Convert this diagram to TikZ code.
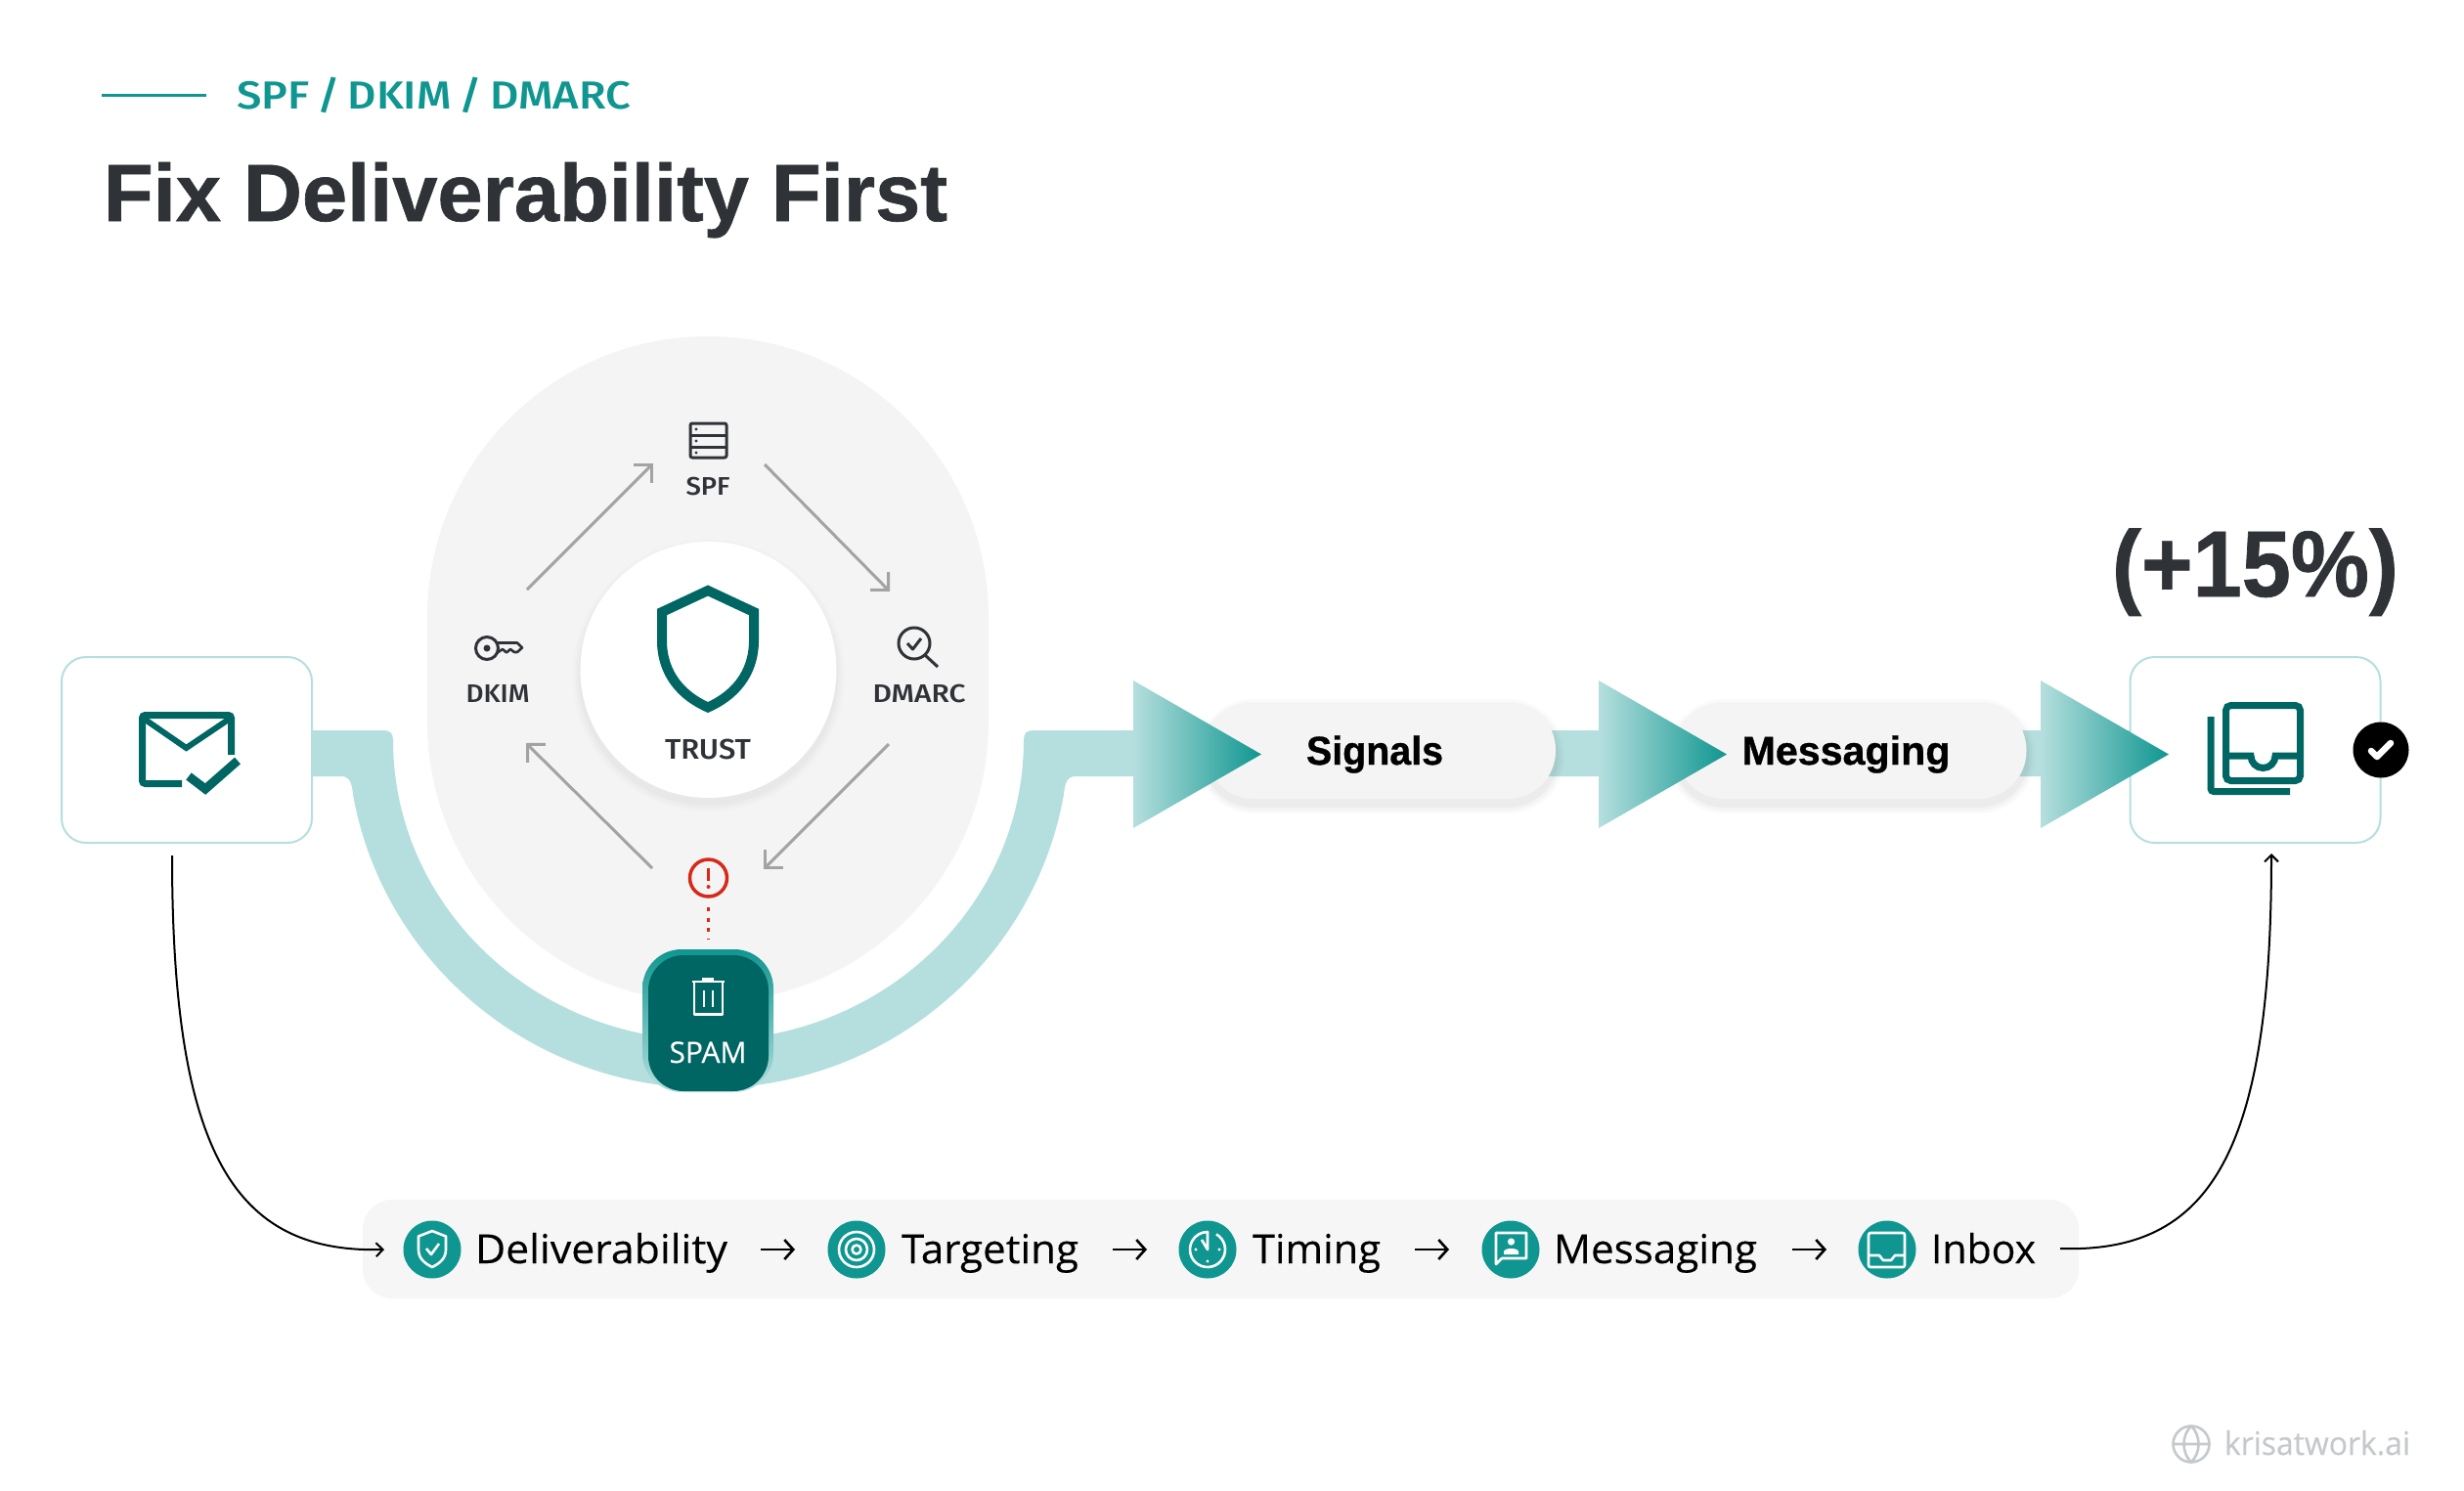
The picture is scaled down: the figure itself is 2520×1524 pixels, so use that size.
\documentclass[tikz,border=0pt]{standalone}
\usepackage{fontspec}
\usepackage{graphicx}
\usetikzlibrary{arrows.meta,shadings}
\setmainfont[FakeBold=0.25]{Open Sans}
\newfontfamily\headf[BoldFeatures={FakeBold=0.8}]{Liberation Sans}
\newfontfamily\medf[WordSpace=0.7]{Fira Sans Medium}
\definecolor{tealA}{HTML}{0F9690}
\definecolor{deep}{HTML}{006663}
\definecolor{pale}{HTML}{B5DFDE}
\definecolor{ink}{HTML}{2F3237}
\definecolor{soft}{HTML}{F4F4F4}
\definecolor{stripc}{HTML}{F6F6F6}
\definecolor{warn}{HTML}{D5291A}
\definecolor{arrowg}{HTML}{A3A3A3}
\definecolor{wmgray}{HTML}{C5C9CC}
\newsavebox\fitbox
\newcommand{\fitw}[2]{\sbox\fitbox{#2}\pgfmathsetmacro\fitr{#1/\the\wd\fitbox}\scalebox{\fitr}[1]{\usebox\fitbox}}
\newcommand{\fz}[1]{\fontsize{#1}{#1}\selectfont}
\tikzset{
  x=1pt,y=-1pt,
  txt/.style={inner sep=0pt,outer sep=0pt,anchor=base west},
  ctxt/.style={inner sep=0pt,outer sep=0pt,anchor=base},
  cardbox/.style={draw=pale,line width=2pt,fill=white,rounded corners=25pt,minimum width=256pt,minimum height=190pt,inner sep=0pt},
  pillbox/.style={fill=soft,rounded corners=49pt,minimum width=358pt,minimum height=99pt,inner sep=0pt,font=\headf\bfseries\fz{41}\color{black}},
  looparrow/.style={draw=arrowg,line width=3pt,-{Straight Barb[length=13pt,width=26pt,line width=3pt]}},
  thinarrow/.style={draw=black,line width=2pt,-{Straight Barb[length=7pt,width=14pt,line width=2pt]}},
  steparrow/.style={draw=black,line width=2.6pt,-{Straight Barb[length=9pt,width=20pt,line width=2.6pt]}},
  tri/.style={left color=pale,right color=tealA,draw=none},
  dotc/.style={circle,fill=tealA,minimum size=59pt,inner sep=0pt},
  wicon/.style={draw=white,line width=2.6pt,line join=round},
  dicon/.style={draw=deep,line width=7pt},
  gicon/.style={draw=ink,line width=3pt,line join=round},
}
\begin{document}
\begin{tikzpicture}
\useasboundingbox (0,0) rectangle (2520,1524);
\fill[white] (0,0) rectangle (2520,1524);
% title
\coordinate (ruleA) at (104,97); \coordinate (ruleB) at (211,97);
\draw[tealA,line width=3pt] (ruleA) -- (ruleB);
\node[txt,text=tealA] (kicker) at (242,111) {\medf\fz{40}\fitw{403}{SPF / DKIM / DMARC}};
\node[txt,text=ink] (title) at (106,226) {\headf\bfseries\fz{83}\fitw{863}{Fix Deliverability First}};
% stadium
\fill[soft] (437,631) arc[start angle=180,end angle=360,radius=287] -- (1011,738) arc[start angle=0,end angle=180,radius=287] -- cycle;
% band
\fill[pale] (319,747) -- (392,747) .. controls (399,747) and (402,750) .. (402,757)
  arc[start angle=180,end angle=0,x radius=322.5,y radius=307]
  .. controls (1047,750) and (1050,747) .. (1057,747) -- (2180,747) -- (2180,794) -- (1100,794)
  .. controls (1092,794) and (1089,800) .. (1087.9,813)
  arc[start angle=10,end angle=170,x radius=369,y radius=363]
  .. controls (360,800) and (357,794) .. (349,794) -- (319,794) -- cycle;
% trust disc
\foreach \s/\o in {8/.012,5/.015,2/.02}{
  \fill[black,opacity=\o] (724.5,691) circle[radius=131+\s];
}
\node[circle,fill=white,minimum size=262pt,inner sep=0pt] (trust) at (724.5,685) {};
\draw[deep,line width=10pt,miter limit=10] (724,604) -- (771,626) -- (771,655) .. controls (771,690) and (750,712) .. (724,723.5) .. controls (698,712) and (677,690) .. (677,655) -- (677,626) -- cycle;
\node[ctxt,text=ink] (trustl) at (724,776) {\medf\fz{29}\fitw{88}{TRUST}};
% SPF icon
\draw[gicon,rounded corners=2pt] (706,433) rectangle (743,468);
\draw[gicon] (706,445) -- (743,445) (706,457) -- (743,457);
\fill[ink] (712,439) circle[radius=1.6] (712,451) circle[radius=1.6] (712,463) circle[radius=1.6];
\node[ctxt,text=ink] (spf) at (724,506) {\medf\fz{26}\fitw{45}{SPF}};
% key icon
\draw[gicon] (498,663) circle[radius=11.5];
\fill[ink] (498,663) circle[radius=3.5];
\draw[gicon,line width=2.6pt] (508,657.5) -- (529,657.5) -- (534,662.5) -- (529,667) -- (526,667) -- (522,664) -- (518,667.5) -- (514,664) -- (508,668);
\node[ctxt,text=ink] (dkim) at (509,718) {\medf\fz{26}\fitw{65}{DKIM}};
% DMARC icon
\draw[gicon] (935,658) circle[radius=16];
\draw[gicon] (946,670) -- (959,682);
\draw[gicon] (928,658) -- (933.5,664) -- (942,653);
\node[ctxt,text=ink] (dmarc) at (940,718) {\medf\fz{26}\fitw{95}{DMARC}};
% loop arrows
\coordinate (a1) at (539,603); \coordinate (a2) at (668,474);
\coordinate (b1) at (782,475); \coordinate (b2) at (910,605);
\coordinate (c1) at (909,761); \coordinate (c2) at (781,889);
\coordinate (d1) at (667,888); \coordinate (d2) at (538,760);
\draw[looparrow] (a1) -- (a2);
\draw[looparrow] (b1) -- (b2);
\draw[looparrow] (c1) -- (c2);
\draw[looparrow] (d1) -- (d2);
% alert
\node[circle,draw=warn,line width=3.5pt,minimum size=38pt,inner sep=0pt] (alert) at (724.5,898) {};
\draw[warn,line width=3.5pt] (724.5,888) -- (724.5,901);
\fill[warn] (724.5,907) circle[radius=2];
\coordinate (dotA) at (724.5,928); \coordinate (dotB) at (724.5,961);
\draw[warn,line width=3.5pt,dash pattern=on 4pt off 6.5pt] (dotA) -- (dotB);
% spam
\shade[top color=tealA,middle color=tealA,bottom color=pale,rounded corners=40pt] (657,971) rectangle (791,1117);
\fill[deep,rounded corners=36pt] (663,977) rectangle (786,1116);
\draw[white,line width=2.8pt,line join=round] (710,1004) -- (710,1037.5) -- (739,1037.5) -- (739,1004) (708,1004) -- (741,1004) (718,1001.5) -- (730,1001.5) (720,1013) -- (720,1030) (729,1013) -- (729,1030);
\node[ctxt,text=white] (spam) at (724,1087) {\fz{30}\fitw{79}{SPAM}};
% cards
\node[cardbox] (src) at (191,767) {};
\node[cardbox] (dst) at (2306.5,767) {};
\draw[dicon,rounded corners=3pt] (236.5,772) -- (236.5,731.5) -- (145.5,731.5) -- (145.5,801.5) -- (186,801.5);
\draw[dicon,line width=6pt] (147,735) -- (190.5,765) -- (235,735);
\draw[deep,line width=9pt] (193,794) -- (210,807) -- (243,778);
\draw[dicon,rounded corners=5pt] (2276.5,721.5) rectangle (2352.5,798.5);
\draw[dicon] (2276,773) -- (2302,773) arc[start angle=180,end angle=0,radius=12.5] -- (2352,773);
\draw[dicon,rounded corners=3pt] (2261,733) -- (2261,809.5) -- (2342,809.5);
\node[circle,fill=black,minimum size=57pt,inner sep=0pt] (badge) at (2435,767) {};
\draw[white,line width=6.5pt,line cap=round,line join=round] (2425,768) -- (2431,774) -- (2445,760);
\node[txt,text=ink] (gain) at (2160,610) {\headf\bfseries\fz{96}\fitw{293}{(+15\%)}};
% pills
\foreach \cx in {1412,1893.5}{
  \foreach \s/\o in {9/.018,6/.022,3/.03}{
    \fill[black,opacity=\o,rounded corners=49pt+\s] (\cx-179-\s,718+6-\s) rectangle (\cx+179+\s,817+6+\s);
  }
}
\node[pillbox] (signals) at (1412,767.5) {};
\node[pillbox] (messaging) at (1893.5,767.5) {};
\node[ctxt,font=\headf\bfseries\fz{41}] (signalsl) at (1406,782) {\fitw{140}{Signals}};
\node[ctxt,font=\headf\bfseries\fz{41}] (messagingl) at (1888,782) {\fitw{213}{Messaging}};
% triangles
\shade[tri] (1159,696) -- (1290,771.5) -- (1159,847) -- cycle;
\shade[tri] (1635,696) -- (1766,771.5) -- (1635,847) -- cycle;
\shade[tri] (2087,696) -- (2218,771.5) -- (2087,847) -- cycle;
% strip
\node[fill=stripc,rounded corners=30pt,minimum width=1755pt,minimum height=101pt,inner sep=0pt] (strip) at (1248.5,1277.5) {};
\node[dotc] (i1) at (442,1278) {};
\node[dotc] (i2) at (876,1278) {};
\node[dotc] (i3) at (1235,1278) {};
\node[dotc] (i4) at (1545,1278) {};
\node[dotc] (i5) at (1930,1278) {};
\node[txt] (t1) at (486,1292) {\fz{41}\fitw{258}{Deliverability}};
\node[txt] (t2) at (922,1292) {\fz{41}\fitw{181}{Targeting}};
\node[txt] (t3) at (1281,1292) {\fz{41}\fitw{131}{Timing}};
\node[txt] (t4) at (1589,1292) {\fz{41}\fitw{208}{Messaging}};
\node[txt] (t5) at (1975,1292) {\fz{41}\fitw{107}{Inbox}};
\coordinate (s1a) at (778,1278); \coordinate (s1b) at (813,1278);
\coordinate (s2a) at (1138,1278); \coordinate (s2b) at (1173,1278);
\coordinate (s3a) at (1447,1278); \coordinate (s3b) at (1482,1278);
\coordinate (s4a) at (1833,1278); \coordinate (s4b) at (1868,1278);
\draw[steparrow] (s1a) -- (s1b);
\draw[steparrow] (s2a) -- (s2b);
\draw[steparrow] (s3a) -- (s3b);
\draw[steparrow] (s4a) -- (s4b);
% small icons
\draw[wicon] (442,1259) -- (456,1264.5) -- (456,1278) .. controls (456,1287) and (450,1292) .. (442,1296) .. controls (434,1292) and (428,1287) .. (428,1278) -- (428,1264.5) -- cycle;
\draw[wicon] (436,1277) -- (441,1283) -- (449,1272);
\draw[wicon] (876,1278) circle[radius=18] (876,1278) circle[radius=11] (876,1278) circle[radius=4.5];
\draw[wicon] (1244,1262.4) arc[start angle=-60,end angle=270,radius=18] -- (1235,1278) -- (1229,1268);
\fill[white] (1223,1278) circle[radius=1.6] (1235,1290) circle[radius=1.6] (1247,1278) circle[radius=1.6];
\draw[wicon] (1530,1293) -- (1530,1261) -- (1561,1261) -- (1561,1287) -- (1536,1287) -- cycle;
\fill[white] (1545.5,1270) circle[radius=3.6];
\fill[white] (1538,1283) -- (1538,1280) .. controls (1539,1276) and (1552,1276) .. (1553,1280) -- (1553,1283) -- cycle;
\draw[wicon,rounded corners=2pt] (1911,1261) rectangle (1948,1296);
\draw[wicon] (1911,1284) -- (1922,1284) -- (1926,1289) -- (1934,1289) -- (1938,1284) -- (1948,1284);
% long connectors
\coordinate (outL) at (176,875); \coordinate (inL) at (393,1278);
\coordinate (outR) at (2107,1277); \coordinate (inR) at (2323,873);
\draw[thinarrow] (outL) .. controls (176,1180) and (240,1282) .. (inL);
\draw[thinarrow] (outR) .. controls (2260,1282) and (2323,1180) .. (inR);
% watermark
\draw[wmgray,line width=2.6pt] (2241,1477) circle[radius=18.5] (2222.5,1477) -- (2259.5,1477) (2241,1458.5) .. controls (2231,1468) and (2231,1486) .. (2241,1495.5) .. controls (2251,1486) and (2251,1468) .. (2241,1458.5);
\node[txt,text=wmgray] (wm) at (2275,1488) {\fz{33}\fitw{190}{krisatwork.ai}};
\end{tikzpicture}
\end{document}
